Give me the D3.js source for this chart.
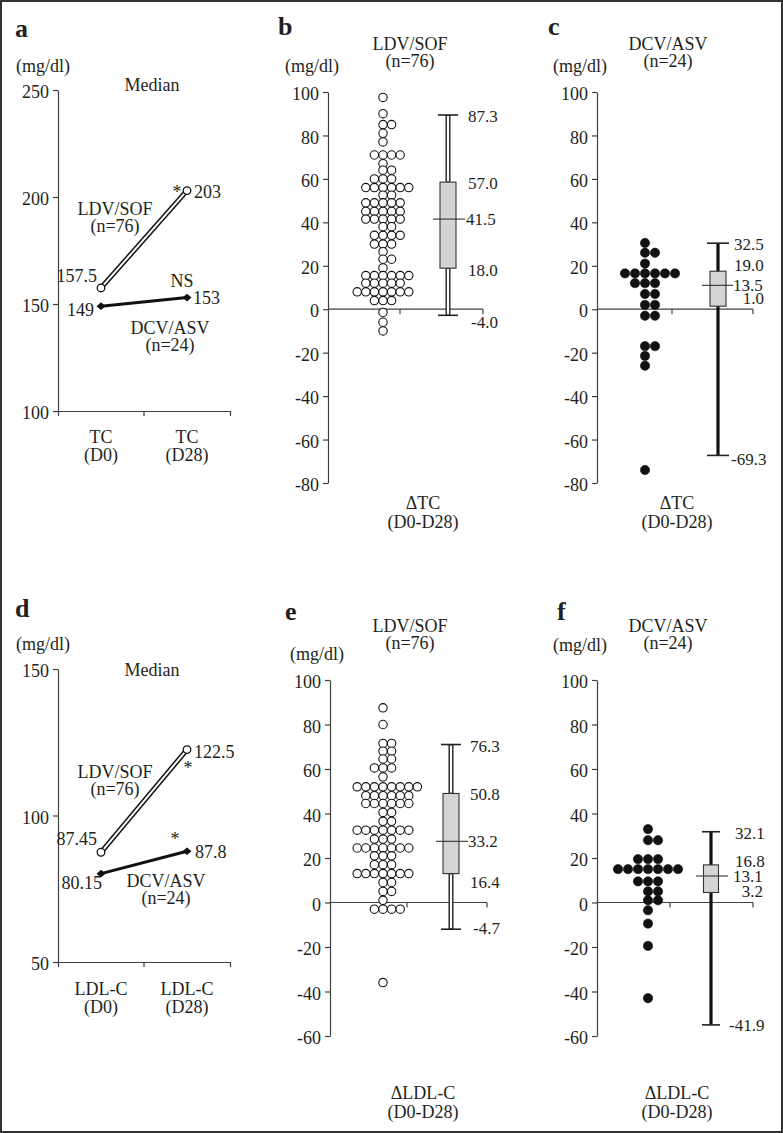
<!DOCTYPE html>
<html><head><meta charset="utf-8">
<script src="https://cdn.jsdelivr.net/npm/d3@7"></script>
<style>
body{margin:0;background:#fff}
svg text{font-family:"Liberation Serif","Times New Roman",serif}
</style>
</head><body>
<svg id="chart" width="783" height="1133"></svg>
<script>
// ---------------- DATA ----------------
const lineCats = ["D0", "D28"];
const tcCatLabels = [["TC", "(D0)"], ["TC", "(D28)"]];
const ldlCatLabels = [["LDL-C", "(D0)"], ["LDL-C", "(D28)"]];
const tcLdvMedian = [157.5, 203];
const tcDcvMedian = [149, 153];
const ldlLdvMedian = [87.45, 122.5];
const ldlDcvMedian = [80.15, 87.8];
const tcTicks = [100, 150, 200, 250];
const ldlTicks = [50, 100, 150];
const deltaTcTicks = [-80, -60, -40, -20, 0, 20, 40, 60, 80, 100];
const deltaLdlTicks = [-60, -40, -20, 0, 20, 40, 60, 80, 100];

// individual changes (mg/dl), one value per patient
const tcLdvDots = [97.5, 90, 85, 85, 81, 77, 71, 71, 71, 71, 67, 64, 64, 60, 60, 60,
  56, 56, 56, 56, 56, 56, 52.5, 52.5, 49, 49, 49, 49, 49, 45, 45, 45, 45, 45,
  41.5, 41.5, 41.5, 41.5, 41.5, 38, 38, 34, 34, 34, 34, 30, 30, 30, 26.5, 23, 23, 19,
  15.5, 15.5, 15.5, 15.5, 15.5, 15.5, 12, 12, 12, 12, 12, 8, 8, 8, 8, 8, 8, 8,
  4, 4, 4, -1.5, -6, -10];
const tcDcvDots = [30.5, 26, 26, 21, 16.5, 16.5, 16.5, 16.5, 16.5, 16.5, 12, 12, 12,
  7, 7, 2, 2, -3, -3, -17, -17, -21.5, -26, -74];
const ldlLdvDots = [87.5, 80, 71.5, 71.5, 68, 68, 64.5, 64.5, 60.5, 60.5, 60.5, 56.5,
  52, 52, 52, 52, 52, 52, 52, 52, 48, 48, 48, 48, 48, 48, 44.5, 44.5, 44.5, 44.5, 44.5, 44.5,
  40.5, 40.5, 36.5, 36.5, 32.5, 32.5, 32.5, 32.5, 32.5, 32.5, 32.5, 28.5, 28.5, 28.5,
  24.5, 24.5, 24.5, 24.5, 24.5, 24.5, 24.5, 21, 21, 21, 17, 17, 17,
  13, 13, 13, 13, 13, 13, 13, 9, 9, 5, 5, 1, -3, -3, -3, -3, -36];
const ldlDcvDots = [33, 28, 28, 19.5, 19.5, 19.5, 15, 15, 15, 15, 15, 15, 15,
  9.5, 9.5, 9.5, 5, 5, 1, 1, -3.5, -9.5, -19.5, -43];

// box plots as drawn: [lower whisker, Q1, median, Q3, upper whisker]
const tcLdvBox = [-2.8, 18.9, 41.5, 58.5, 89.4];
const tcDcvBox = [-67.3, 1.4, 11, 17.5, 30.4];
const ldlLdvBox = [-12, 13, 27.5, 49, 71];
const ldlDcvBox = [-55, 4.5, 11.9, 16.9, 31.8];
// printed box labels, same order
const tcLdvBoxLabels = ["-4.0", "18.0", "41.5", "57.0", "87.3"];
const tcDcvBoxLabels = ["-69.3", "1.0", "13.5", "19.0", "32.5"];
const ldlLdvBoxLabels = ["-4.7", "16.4", "33.2", "50.8", "76.3"];
const ldlDcvBoxLabels = ["-41.9", "3.2", "13.1", "16.8", "32.1"];

// ---------------- DRAWING ----------------
const svg = d3.select("#chart");
const INK = "#231f20", AX = "#404040", FS = 18;

function T(x, y, s, o = {}) {
  return svg.append("text").attr("x", x).attr("y", y)
    .attr("text-anchor", o.a || "start")
    .attr("font-size", o.fs || FS)
    .attr("font-weight", o.fw || "normal")
    .attr("fill", INK).text(s);
}
function styleAxis(g) {
  g.attr("font-family", null).attr("font-size", null);
  g.select(".domain").attr("stroke", AX).attr("stroke-width", 1.2);
  g.selectAll(".tick line").attr("stroke", AX).attr("stroke-width", 1.2);
  g.selectAll(".tick text").attr("fill", INK).attr("font-size", FS).attr("dy", "0.42em");
}

// outer frame
svg.append("rect").attr("x", 1).attr("y", 1).attr("width", 781).attr("height", 1131)
  .attr("fill", "none").attr("stroke", "#333").attr("stroke-width", 2);

function linePanel(c) {
  const y = d3.scaleLinear().domain(c.domain).range(c.range);
  const band = d3.scaleBand().domain(lineCats).range(c.xRange);
  const x = k => band(k) + band.bandwidth() / 2;
  const gy = svg.append("g").attr("transform", `translate(${c.xRange[0]},0)`)
    .call(d3.axisLeft(y).tickValues(c.ticks).tickSize(5).tickSizeOuter(0).tickPadding(4).tickFormat(d3.format("d")));
  styleAxis(gy);
  const y0 = y(c.domain[0]);
  const gx = svg.append("g").attr("transform", `translate(0,${y0})`)
    .call(d3.axisBottom(band).tickSize(0).tickSizeOuter(5).tickFormat(""));
  styleAxis(gx);
  svg.append("line").attr("x1", band(lineCats[1])).attr("x2", band(lineCats[1]))
    .attr("y1", y0).attr("y2", y0 + 5).attr("stroke", AX).attr("stroke-width", 1.2);
  c.catLabels.forEach((lab, i) => {
    T(x(lineCats[i]), c.catY[0], lab[0], { a: "middle" });
    T(x(lineCats[i]), c.catY[1], lab[1], { a: "middle" });
  });
  const line = d3.line().x((d, i) => x(lineCats[i])).y(d => y(d));
  // LDV/SOF: double line with open circles
  svg.append("path").attr("d", line(c.ldv)).attr("fill", "none").attr("stroke", "#111").attr("stroke-width", 5);
  svg.append("path").attr("d", line(c.ldv)).attr("fill", "none").attr("stroke", "#fff").attr("stroke-width", 2);
  // DCV/ASV: thick line with diamonds
  svg.append("path").attr("d", line(c.dcv)).attr("fill", "none").attr("stroke", "#111").attr("stroke-width", 3);
  svg.selectAll(null).data(c.dcv).join("path")
    .attr("d", (d, i) => { const px = x(lineCats[i]), py = y(d); return `M${px - 4.5},${py}L${px},${py - 3.8}L${px + 4.5},${py}L${px},${py + 3.8}Z`; })
    .attr("fill", "#111");
  svg.selectAll(null).data(c.ldv).join("circle")
    .attr("cx", (d, i) => x(lineCats[i])).attr("cy", d => y(d)).attr("r", 3.8)
    .attr("fill", "#fff").attr("stroke", "#111").attr("stroke-width", 1.3);
  // value labels
  c.valLabels.forEach(v => {
    const arr = v.s === "ldv" ? c.ldv : c.dcv;
    T(x(lineCats[v.i]) + v.dx, y(arr[v.i]) + v.dy, String(arr[v.i]), { a: v.a });
  });
  c.notes.forEach(n => T(n.x, n.y, n.t, { a: n.a || "middle" }));
}

function layoutDots(values, cx, sp) {
  const out = [];
  for (const [v, arr] of d3.group(values, d => d)) {
    arr.forEach((_, i) => {
      const k = i === 0 ? 0 : (i % 2 === 1 ? (i + 1) / 2 : -i / 2);
      out.push({ v, x: cx + k * sp });
    });
  }
  return out;
}

function deltaPanel(c, dots, box, labels) {
  const y = d3.scaleLinear().domain(c.domain).range(c.range);
  const gy = svg.append("g").attr("transform", `translate(${c.axisX},0)`)
    .call(d3.axisLeft(y).tickValues(c.ticks).tickSize(5).tickSizeOuter(0).tickPadding(4).tickFormat(d => String(d)));
  styleAxis(gy);
  const z = y(0);
  svg.append("line").attr("x1", c.axisX).attr("x2", c.xEnd).attr("y1", z).attr("y2", z)
    .attr("stroke", AX).attr("stroke-width", 1.2);
  c.xTicks.forEach(t => svg.append("line").attr("x1", t).attr("x2", t).attr("y1", z).attr("y2", z + 5)
    .attr("stroke", AX).attr("stroke-width", 1.2));
  // box plot
  const bx = c.boxX, [lo, q1, med, q3, hi] = box.map(y);
  if (c.open) {
    [[hi, q3], [q1, lo]].forEach(([a, b]) => {
      svg.append("line").attr("x1", bx).attr("x2", bx).attr("y1", a).attr("y2", b).attr("stroke", "#222").attr("stroke-width", 5);
      svg.append("line").attr("x1", bx).attr("x2", bx).attr("y1", a + 0.8).attr("y2", b - 0.8).attr("stroke", "#fff").attr("stroke-width", 2.2);
    });
  } else {
    svg.append("line").attr("x1", bx).attr("x2", bx).attr("y1", hi).attr("y2", lo).attr("stroke", "#111").attr("stroke-width", 3.2);
  }
  [hi, lo].forEach(v => svg.append("line").attr("x1", bx - c.capHW).attr("x2", bx + c.capHW)
    .attr("y1", v).attr("y2", v).attr("stroke", "#222").attr("stroke-width", 1.6));
  svg.append("rect").attr("x", bx - c.boxHW).attr("y", q3).attr("width", 2 * c.boxHW).attr("height", q1 - q3)
    .attr("fill", "#d4d4d4").attr("stroke", "#333").attr("stroke-width", 1.1);
  svg.append("line").attr("x1", c.medX[0]).attr("x2", c.medX[1]).attr("y1", med).attr("y2", med)
    .attr("stroke", "#333").attr("stroke-width", 1.1);
  // dots
  svg.selectAll(null).data(layoutDots(dots, c.dotX, c.dotSp)).join("circle")
    .attr("cx", d => d.x).attr("cy", d => y(d.v)).attr("r", c.dotR)
    .attr("fill", c.open ? "#fff" : "#111").attr("stroke", "#111").attr("stroke-width", c.open ? 1.1 : 0.5);
  // box labels
  c.labelPos.forEach((p, i) => {
    T(p.x ?? c.labelX, y(box[i]) + p.dy + 6, labels[i], { a: p.a || "start", fs: 17 });
  });
  // titles
  T(c.letter[1], c.letter[2], c.letter[0], { fs: 26, fw: "bold" });
  T(c.titleX, c.titleY[0], c.title[0], { a: "middle" });
  T(c.titleX, c.titleY[1], c.title[1], { a: "middle" });
  T(c.unitX, c.unitY, "(mg/dl)");
  T(c.bottomX, c.bottomY[0], c.bottom[0], { a: "middle" });
  T(c.bottomX, c.bottomY[1], c.bottom[1], { a: "middle" });
}

// ---- panel a ----
T(15, 37, "a", { fs: 26, fw: "bold" });
T(16, 72, "(mg/dl)");
linePanel({
  domain: [100, 250], range: [411, 90], ticks: tcTicks, xRange: [58, 230],
  catLabels: tcCatLabels, catY: [443, 461], ldv: tcLdvMedian, dcv: tcDcvMedian,
  valLabels: [
    { s: "ldv", i: 0, dx: -4, dy: -6, a: "end" }, { s: "ldv", i: 1, dx: 7, dy: 7, a: "start" },
    { s: "dcv", i: 0, dx: -7, dy: 10, a: "end" }, { s: "dcv", i: 1, dx: 6, dy: 6, a: "start" }],
  notes: [
    { x: 152, y: 91, t: "Median" }, { x: 115, y: 215, t: "LDV/SOF" }, { x: 115, y: 232, t: "(n=76)" },
    { x: 177, y: 198, t: "*" }, { x: 182, y: 287, t: "NS" },
    { x: 170, y: 334, t: "DCV/ASV" }, { x: 170, y: 351, t: "(n=24)" }]
});

// ---- panel d ----
T(15, 617, "d", { fs: 26, fw: "bold" });
T(16, 650, "(mg/dl)");
linePanel({
  domain: [50, 150], range: [962, 669], ticks: ldlTicks, xRange: [58, 230],
  catLabels: ldlCatLabels, catY: [995, 1013], ldv: ldlLdvMedian, dcv: ldlDcvMedian,
  valLabels: [
    { s: "ldv", i: 0, dx: -4, dy: -7, a: "end" }, { s: "ldv", i: 1, dx: 7, dy: 8, a: "start" },
    { s: "dcv", i: 0, dx: 1, dy: 15, a: "end" }, { s: "dcv", i: 1, dx: 8, dy: 7, a: "start" }],
  notes: [
    { x: 152, y: 676, t: "Median" }, { x: 115, y: 778, t: "LDV/SOF" }, { x: 115, y: 795, t: "(n=76)" },
    { x: 188, y: 774, t: "*" }, { x: 175, y: 845, t: "*" },
    { x: 166, y: 887, t: "DCV/ASV" }, { x: 166, y: 904, t: "(n=24)" }]
});

// ---- panel b ----
deltaPanel({
  domain: [-80, 100], range: [483, 92], ticks: deltaTcTicks, axisX: 328, xEnd: 483, xTicks: [400, 483],
  dotX: 383, dotSp: 8.6, dotR: 4.2, open: true, boxX: 448, boxHW: 8, capHW: 10, medX: [433, 465], labelX: 468,
  labelPos: [{ dy: 7, x: 471 }, { dy: 2 }, { dy: 0, x: 466 }, { dy: 1 }, { dy: 1 }],
  letter: ["b", 278, 35], title: ["LDV/SOF", "(n=76)"], titleX: 410, titleY: [50, 67],
  unitX: 285, unitY: 72, bottom: ["\u0394TC", "(D0-D28)"], bottomX: 423, bottomY: [509, 528]
}, tcLdvDots, tcLdvBox, tcLdvBoxLabels);

// ---- panel c ----
deltaPanel({
  domain: [-80, 100], range: [483, 92], ticks: deltaTcTicks, axisX: 597, xEnd: 753, xTicks: [672, 753],
  dotX: 645, dotSp: 10, dotR: 4.7, open: false, boxX: 718, boxHW: 8, capHW: 11, medX: [702, 733], labelX: 734,
  labelPos: [{ dy: 4, x: 731 }, { dy: -8, x: 764, a: "end" }, { dy: 0, x: 733 }, { dy: -6 }, { dy: 1 }],
  letter: ["c", 548, 35], title: ["DCV/ASV", "(n=24)"], titleX: 668, titleY: [50, 67],
  unitX: 553, unitY: 72, bottom: ["\u0394TC", "(D0-D28)"], bottomX: 677, bottomY: [509, 528]
}, tcDcvDots, tcDcvBox, tcDcvBoxLabels);

// ---- panel e ----
deltaPanel({
  domain: [-60, 100], range: [1036, 680], ticks: deltaLdlTicks, axisX: 330, xEnd: 487, xTicks: [407, 487],
  dotX: 383, dotSp: 8.6, dotR: 4.2, open: true, boxX: 451, boxHW: 8, capHW: 10, medX: [436, 468], labelX: 470,
  labelPos: [{ dy: -1, x: 473 }, { dy: 8 }, { dy: 0, x: 468 }, { dy: 1 }, { dy: 1 }],
  letter: ["e", 285, 620], title: ["LDV/SOF", "(n=76)"], titleX: 410, titleY: [632, 649],
  unitX: 290, unitY: 660, bottom: ["\u0394LDL-C", "(D0-D28)"], bottomX: 423, bottomY: [1099, 1118]
}, ldlLdvDots, ldlLdvBox, ldlLdvBoxLabels);

// ---- panel f ----
deltaPanel({
  domain: [-60, 100], range: [1036, 680], ticks: deltaLdlTicks, axisX: 597, xEnd: 753, xTicks: [670, 753],
  dotX: 648, dotSp: 10, dotR: 4.7, open: false, boxX: 711, boxHW: 7.5, capHW: 9, medX: [696, 728], labelX: 735,
  labelPos: [{ dy: 0, x: 729 }, { dy: -1, x: 763, a: "end" }, { dy: 0, x: 733 }, { dy: -4 }, { dy: 1 }],
  letter: ["f", 557, 620], title: ["DCV/ASV", "(n=24)"], titleX: 668, titleY: [632, 649],
  unitX: 553, unitY: 651, bottom: ["\u0394LDL-C", "(D0-D28)"], bottomX: 677, bottomY: [1099, 1118]
}, ldlDcvDots, ldlDcvBox, ldlDcvBoxLabels);
</script>
</body></html>
